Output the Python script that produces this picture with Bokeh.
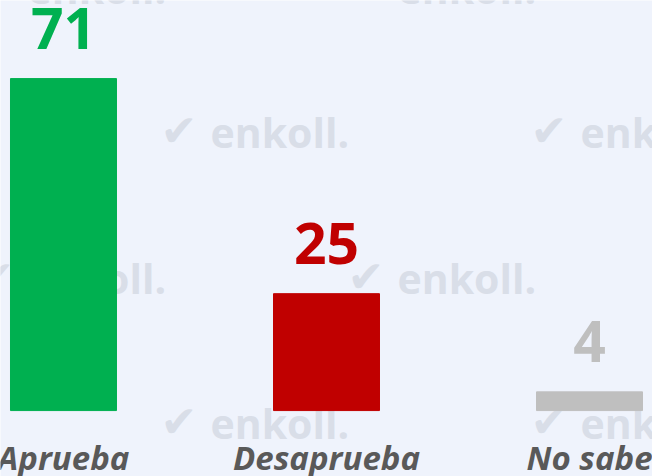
from bokeh.plotting import figure
from bokeh.models import ColumnDataSource, Range1d, Label
from bokeh.core.properties import value
from bokeh.embed import file_html
from bokeh.resources import INLINE

categories = ["Aprueba", "Desaprueba", "No sabe"]
values = [71, 25, 4]
colors = ["#00B050", "#C00000", "#BFBFBF"]
value_labels = ["71", "25", "4"]

BG = "#EFF3FC"
W, H = 652, 476
xpos = list(range(len(categories)))
src = ColumnDataSource(dict(x=xpos, top=values, color=colors, cat=categories,
                            lab=value_labels, zero=[0] * len(values)))

p = figure(width=W, height=H, output_backend="svg", toolbar_location=None,
           x_range=Range1d(-0.2395, 2.2395), y_range=Range1d(-14.1, 87.7),
           min_border=0, background_fill_color=BG, border_fill_color=BG)
p.outline_line_color = None
p.axis.visible = False
p.grid.visible = False

# watermarks (text start x, baseline y from top)
wm_pos = [(27, 2), (397, 2), (210, 146), (580, 146),
          (27, 292), (397, 292), (210, 437), (580, 437)]
WM = "#D9DEE8"
for wx, wb in wm_pos:
    p.add_layout(Label(x=wx, y=H - wb + 15, x_units="screen", y_units="screen", text="enkoll.",
                       text_font="Open Sans", text_font_style="bold", text_font_size="41px",
                       text_color=WM, text_baseline="alphabetic", level="underlay"))
    p.add_layout(Label(x=wx - 50, y=H - wb + 16, x_units="screen", y_units="screen", text="✔",
                       text_font="DejaVu Sans", text_font_style="bold", text_font_size="44px",
                       text_color=WM, text_baseline="alphabetic", level="underlay"))

p.vbar(x="x", top="top", bottom=0, width=0.403, color="color", source=src)

p.text(x="x", y="top", text="lab", source=src, text_color="color",
       text_font=value("Open Sans"), text_font_style="bold", text_font_size="57px",
       text_align="center", text_baseline="alphabetic", y_offset=-50)

p.text(x="x", y="zero", text="cat", source=src, text_color="#595959",
       text_font=value("Open Sans"), text_font_style="bold italic", text_font_size="33px",
       text_align="center", text_baseline="alphabetic", y_offset=47)

open("out.html", "w").write(file_html(p, INLINE))
